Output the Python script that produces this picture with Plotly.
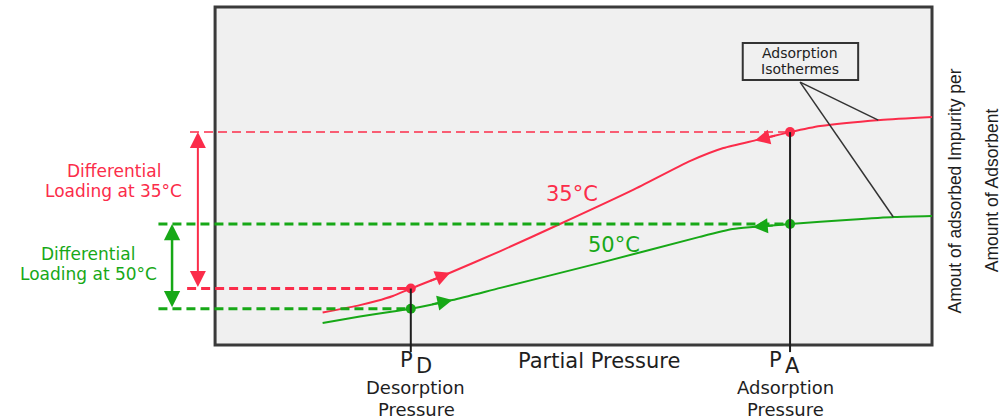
import numpy as np
import plotly.graph_objects as go

# Adsorption isotherms: loading vs. partial pressure (arbitrary units, frame = 0..100)
pressure_35 = [15.0, 20.2, 22.5, 24.8, 27.3, 31.8, 39.8, 48.1, 58.3, 66.3, 70.9, 75.6, 80.2, 84.4, 92.8, 100.0]
loading_35 = [9.6, 11.8, 13.0, 14.5, 16.7, 20.5, 27.8, 35.8, 45.9, 54.5, 58.3, 60.7, 63.0, 64.8, 66.6, 67.5]
pressure_50 = [15.0, 20.2, 24.8, 27.3, 33.1, 39.8, 53.7, 67.6, 72.2, 75.0, 80.2, 88.6, 94.8, 100.0]
loading_50 = [6.5, 8.4, 9.9, 10.7, 13.3, 16.9, 24.3, 32.0, 34.3, 34.9, 35.8, 37.1, 37.9, 38.2]

# Operating pressures
P_D = 27.3   # desorption pressure
P_A = 80.2   # adsorption pressure

# Direction arrows along each isotherm: (pressure at tip, +1 forward / -1 backward)
arrows_35 = [(32.8, 1), (75.3, -1)]
arrows_50 = [(33.1, 1), (75.0, -1)]

# Where the callout leaders meet the curves
leader_x_35 = 92.5
leader_x_50 = 94.6

RED = "#fb2c4a"
GREEN = "#17a817"
DARK = "#1e1e1e"
FONT_H = "DejaVu Sans"
FONT_V = "Liberation Sans"


def load_at(p, xs, ys):
    return float(np.interp(p, xs, ys))


q35_d = load_at(P_D, pressure_35, loading_35)
q35_a = load_at(P_A, pressure_35, loading_35)
q50_d = load_at(P_D, pressure_50, loading_50)
q50_a = load_at(P_A, pressure_50, loading_50)

fig = go.Figure()

# plot frame
fig.add_shape(type="rect", x0=0, x1=100, y0=0, y1=100,
              line=dict(color="#3a3a3a", width=3), fillcolor="#f0f0f0", layer="below")

# dashed loading levels
dash = "9px,5px"
fig.add_shape(type="line", x0=-3.5, x1=P_A, y0=q35_a, y1=q35_a,
              line=dict(color=RED, width=1.5, dash=dash))
fig.add_shape(type="line", x0=-3.9, x1=P_D, y0=q35_d, y1=q35_d,
              line=dict(color=RED, width=3, dash=dash))
fig.add_shape(type="line", x0=-7.9, x1=P_A, y0=q50_a, y1=q50_a,
              line=dict(color=GREEN, width=3, dash=dash))
fig.add_shape(type="line", x0=-7.9, x1=P_D, y0=q50_d, y1=q50_d,
              line=dict(color=GREEN, width=3, dash=dash))

# pressure markers
for p, q in [(P_D, q35_d), (P_A, q35_a)]:
    fig.add_shape(type="line", x0=p, x1=p, y0=q, y1=-2.1,
                  line=dict(color=DARK, width=2))

# callout box and leaders
fig.add_shape(type="rect", x0=73.6, x1=89.7, y0=78.4, y1=89.4,
              line=dict(color="#333333", width=2), fillcolor="rgba(0,0,0,0)")
for lx, xs, ys in [(leader_x_35, pressure_35, loading_35), (leader_x_50, pressure_50, loading_50)]:
    fig.add_shape(type="line", x0=81.6, y0=77.8, x1=lx, y1=load_at(lx, xs, ys),
                  line=dict(color="#333333", width=1.5))

# isotherms
fig.add_trace(go.Scatter(x=pressure_35, y=loading_35, mode="lines",
                         line=dict(color=RED, width=2, shape="spline", smoothing=0.6),
                         hoverinfo="skip"))
fig.add_trace(go.Scatter(x=pressure_50, y=loading_50, mode="lines",
                         line=dict(color=GREEN, width=2, shape="spline", smoothing=0.6),
                         hoverinfo="skip"))

# operating points
fig.add_trace(go.Scatter(x=[P_D, P_A], y=[q35_d, q35_a], mode="markers",
                         marker=dict(color=RED, size=10), hoverinfo="skip"))
fig.add_trace(go.Scatter(x=[P_D, P_A], y=[q50_d, q50_a], mode="markers",
                         marker=dict(color=GREEN, size=10), hoverinfo="skip"))

# arrows along the curves
for arrows, xs, ys, col in [(arrows_35, pressure_35, loading_35, RED),
                            (arrows_50, pressure_50, loading_50, GREEN)]:
    for tip, d in arrows:
        tail = tip - 3.0 * d
        fig.add_annotation(x=tip, y=load_at(tip, xs, ys), ax=tail, ay=load_at(tail, xs, ys),
                           xref="x", yref="y", axref="x", ayref="y", text="",
                           showarrow=True, arrowhead=2, arrowsize=1.5, arrowwidth=2,
                           arrowcolor=col)

# differential loading double arrows
for x_arr, top, bot, col, w, hs in [(-2.4, q35_a, q35_d, RED, 2, 1.6),
                                    (-6.0, q50_a, q50_d, GREEN, 2.5, 1.3)]:
    fig.add_annotation(x=x_arr, y=top, ax=x_arr, ay=bot, xref="x", yref="y",
                       axref="x", ayref="y", text="", showarrow=True,
                       arrowhead=2, startarrowhead=2, arrowside="end+start",
                       arrowsize=hs, startarrowsize=hs, arrowwidth=w, arrowcolor=col)


def label(x, y, text, size, color=DARK, family=FONT_H, angle=0):
    fig.add_annotation(x=x, y=y, xref="x", yref="y", text=text, showarrow=False,
                       textangle=angle, xanchor="center", yanchor="middle",
                       font=dict(family=family, size=size, color=color))


label(-14.1, 51.5, "Differential", 17, RED)
label(-14.1, 45.6, "Loading at 35°C", 17, RED)
label(-17.7, 26.9, "Differential", 17, GREEN)
label(-17.7, 21.0, "Loading at 50°C", 17, GREEN)

label(49.8, 44.7, "35°C", 21, RED)
label(55.6, 29.6, "50°C", 21, GREEN)

label(53.6, -4.6, "Partial Pressure", 21)
label(P_D - 0.6, -4.4, "P", 21)
label(P_D + 1.8, -6.2, "D", 21)
label(P_A - 2.0, -4.4, "P", 21)
label(P_A + 0.3, -6.2, "A", 21)
label(28.0, -12.7, "Desorption", 18)
label(28.1, -19.0, "Pressure", 18)
label(79.5, -12.7, "Adsorption", 18)
label(79.5, -19.0, "Pressure", 18)

label(81.6, 86.5, "Adsorption", 14)
label(81.6, 81.7, "Isothermes", 14)

label(103.2, 45.7, "Amout of adsorbed Impurity per", 17.5, family=FONT_V, angle=-90)
label(108.4, 45.9, "Amount of Adsorbent", 17.5, family=FONT_V, angle=-90)

fig.update_layout(
    width=1008, height=420,
    margin=dict(l=0, r=0, t=0, b=0),
    paper_bgcolor="white", plot_bgcolor="white",
    showlegend=False,
    xaxis=dict(range=[-30.0, 110.6], visible=False, fixedrange=True),
    yaxis=dict(range=[-22.2, 102.1], visible=False, fixedrange=True),
)

fig.write_html("out.html")
